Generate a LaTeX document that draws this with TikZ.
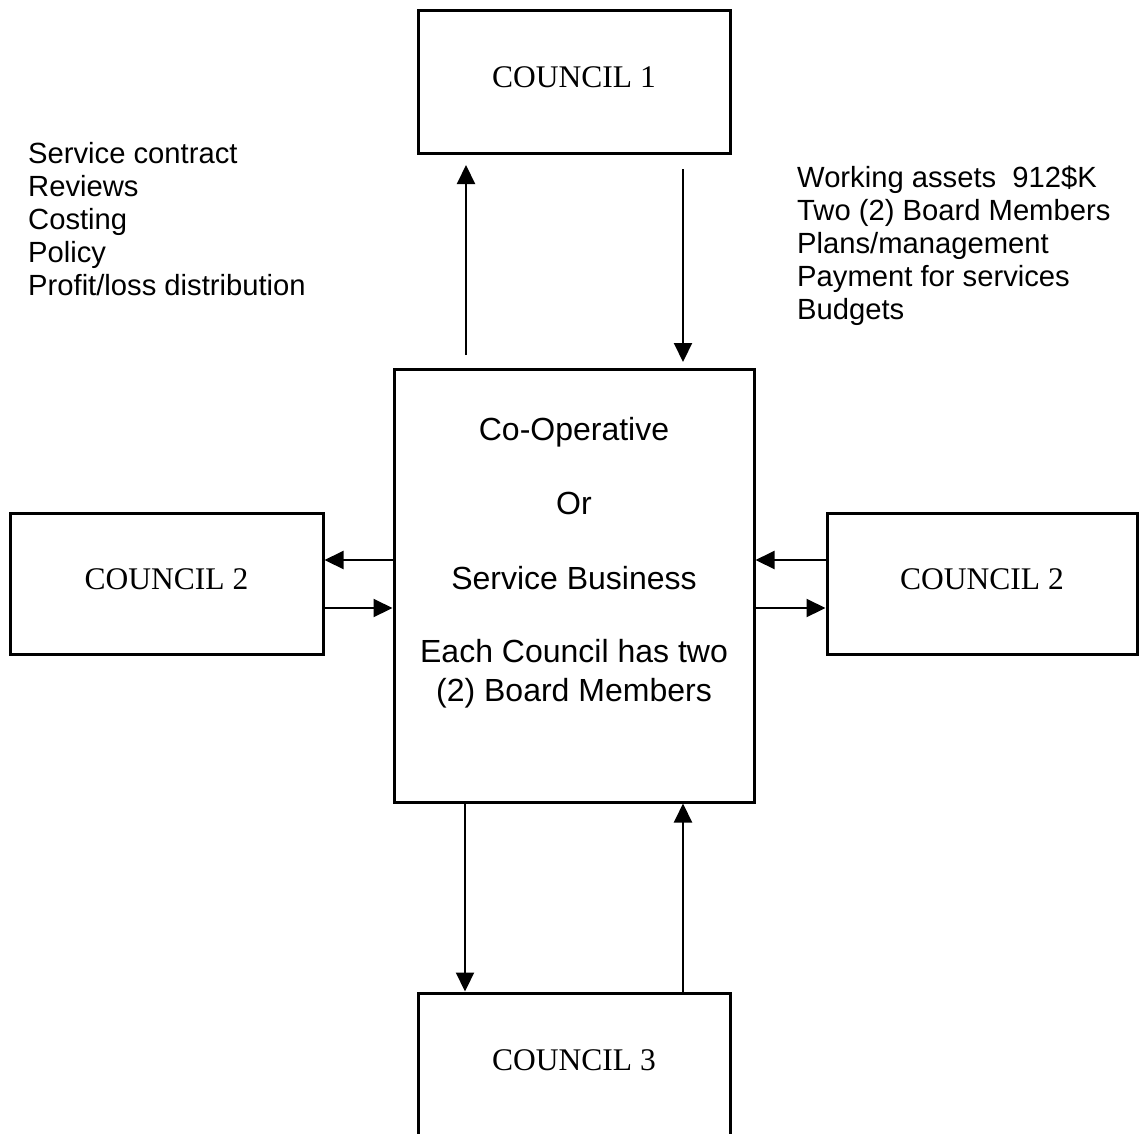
\documentclass[tikz,border=0pt]{standalone}
\usepackage{fontspec}
\setmainfont{Liberation Serif}
\newfontfamily\arialfont{Liberation Sans}
\usetikzlibrary{arrows.meta}
\begin{document}
\begin{tikzpicture}[x=1pt,y=-1pt,
  box/.style={draw,line width=3pt,inner sep=0pt,text height=21pt,text depth=9pt,
    font=\fontsize{31.5}{36}\selectfont},
  arr/.style={line width=2.1pt,-{Triangle[length=19pt,width=18pt]}},
  listline/.style={anchor=base west,inner sep=0pt,font=\arialfont\fontsize{29.2}{33}\selectfont},
  mainline/.style={anchor=base,inner sep=0pt,font=\arialfont\fontsize{32}{38}\selectfont}]
\useasboundingbox (0,0) rectangle (1139,1133);
% boxes
\node[box,minimum width=312pt,minimum height=143pt] (c1) at (574,81.5) {COUNCIL 1};
\node[box,minimum width=313pt,minimum height=141pt] (c2l) at (166.5,583.5) {COUNCIL 2};
\node[box,minimum width=310pt,minimum height=141pt] (c2r) at (982,583.5) {COUNCIL 2};
\node[box,minimum width=312pt,minimum height=142pt] (c3) at (574,1064) {COUNCIL 3};
\node[draw,line width=3pt,inner sep=0pt,minimum width=360pt,minimum height=433pt] (coop) at (574,585.5) {};
% main text
\node[mainline] (m1) at (574,440) {Co-Operative};
\node[mainline] (m2) at (574,514) {Or};
\node[mainline] (m3) at (574,589) {Service Business};
\node[mainline] (m4) at (574,662) {Each Council has two};
\node[mainline] (m5) at (574,701) {(2) Board Members};
% left list
\node[listline] (l1) at (28,163) {Service contract};
\node[listline] (l2) at (28,196) {Reviews};
\node[listline] (l3) at (28,229) {Costing};
\node[listline] (l4) at (28,262) {Policy};
\node[listline] (l5) at (28,295) {Profit/loss distribution};
% right list
\node[listline] (r1) at (797,187) {Working assets~ 912\$K};
\node[listline] (r2) at (797,220) {Two (2) Board Members};
\node[listline] (r3) at (797,253) {Plans/management};
\node[listline] (r4) at (797,286) {Payment for services};
\node[listline] (r5) at (797,319) {Budgets};
% helper coordinates
\coordinate (upS) at (466,355);
\coordinate (upE) at (466,165);
\coordinate (dnS) at (683,169);
\coordinate (dnE) at (683,362);
\coordinate (ya) at (0,560);
\coordinate (yb) at (0,608);
\coordinate (xa) at (465,0);
\coordinate (xb) at (683,0);
% arrows top
\draw[arr] (upS) -- (upE);
\draw[arr] (dnS) -- (dnE);
% arrows left
\draw[arr] (coop.west |- ya) -- (c2l.east |- ya);
\draw[arr] (c2l.east |- yb) -- (coop.west |- yb);
% arrows right
\draw[arr] (c2r.west |- ya) -- (coop.east |- ya);
\draw[arr] (coop.east |- yb) -- (c2r.west |- yb);
% arrows bottom
\draw[arr] (xa |- coop.south) -- (xa |- c3.north);
\draw[arr] (xb |- c3.north) -- (xb |- coop.south);
\end{tikzpicture}
\end{document}
